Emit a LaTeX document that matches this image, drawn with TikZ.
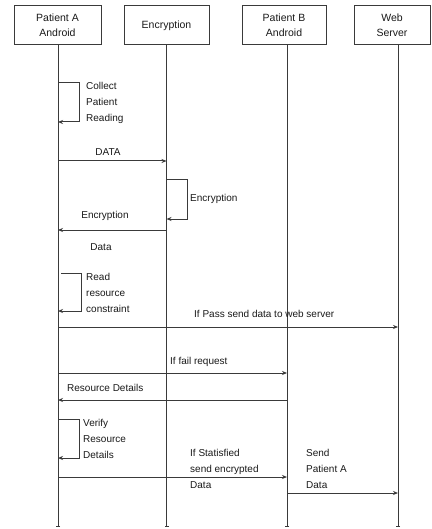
\documentclass[tikz,border=0pt]{standalone}
\usepackage{fontspec}
\setmainfont{Liberation Sans}
\usetikzlibrary{arrows.meta}
\definecolor{linec}{HTML}{3A3A3A}
\definecolor{txtc}{HTML}{1A1A1A}
\begin{document}
\begin{tikzpicture}[x=1pt,y=-1pt,
  hdr/.style={draw=linec, line width=1pt, minimum height=39pt, inner sep=0pt,
    align=center, text=txtc, font=\fontsize{10.5}{14.5}\selectfont},
  life/.style={draw=linec, line width=1pt, -{Bar[width=4pt,line width=1pt]}},
  msg/.style={draw=linec, line width=1pt, -{Stealth[length=5pt,width=4pt]}},
  lbl/.style={text=txtc, font=\fontsize{10}{16}\selectfont, align=left, inner sep=0pt}]
\useasboundingbox (0,0) rectangle (431,529);
\fill[white] (0,0) rectangle (431,529);
% headers
\node[hdr, minimum width=87pt] (hA) at (57.5,25.5) {Patient A\\Android};
\node[hdr, minimum width=85pt] (hB) at (166.5,25.5) {Encryption};
\node[hdr, minimum width=84pt] (hC) at (284,25.5) {Patient B\\Android};
\node[hdr, minimum width=76pt] (hD) at (392,25.5) {Web\\Server};
% lifeline ends
\coordinate (eA) at (58,527);
\coordinate (eB) at (166.5,527);
\coordinate (eC) at (287,527);
\coordinate (eD) at (398,527);
\draw[life] (hA.south -| eA) -- (eA);
\draw[life] (hB.south -| eB) -- (eB);
\draw[life] (hC.south -| eC) -- (eC);
\draw[life] (hD.south -| eD) -- (eD);
% self loop: collect
\coordinate (c1s) at (58,83);
\coordinate (c1e) at (58,122);
\draw[msg] (c1s) -- (79,83) -- (79,122) -- (c1e);
\node[lbl, anchor=west] (tCollect) at (86,103) {Collect\\Patient\\Reading};
% DATA
\coordinate (m1a) at (58,161);
\coordinate (m1b) at (166.5,161);
\draw[msg] (m1a) -- (m1b);
\node[lbl] (tData1) at (108,152) {DATA};
% self loop encryption
\coordinate (c2s) at (166.5,180);
\coordinate (c2e) at (166.5,219);
\draw[msg] (c2s) -- (187,180) -- (187,219) -- (c2e);
\node[lbl, anchor=west] (tEnc) at (190,199) {Encryption};
% return encryption
\coordinate (m2a) at (166.5,230);
\coordinate (m2b) at (58,230);
\draw[msg] (m2a) -- (m2b);
\node[lbl] (tEnc2) at (105,216) {Encryption};
\node[lbl] (tData2) at (101,247) {Data};
% self loop read
\coordinate (c3s) at (61,273);
\coordinate (c3e) at (58,311);
\draw[msg] (c3s) -- (81,273) -- (81,311) -- (c3e);
\node[lbl, anchor=west] (tRead) at (86,293) {Read\\resource\\constraint};
% if pass
\coordinate (m3a) at (58,327);
\coordinate (m3b) at (398,327);
\draw[msg] (m3a) -- (m3b);
\node[lbl, anchor=west] (tPass) at (194,314) {If Pass send data to web server};
% if fail
\coordinate (m4a) at (58,373);
\coordinate (m4b) at (287,373);
\draw[msg] (m4a) -- (m4b);
\node[lbl, anchor=west] (tFail) at (170,362) {If fail request};
% resource details
\coordinate (m5a) at (287,400);
\coordinate (m5b) at (58,400);
\draw[msg] (m5a) -- (m5b);
\node[lbl, anchor=west] (tRes) at (67,388) {Resource Details};
% verify loop
\coordinate (c4s) at (58,419);
\coordinate (c4e) at (58,458);
\draw[msg] (c4s) -- (79,419) -- (79,458) -- (c4e);
\node[lbl, anchor=west] (tVer) at (83,439) {Verify\\Resource\\Details};
% if satisfied
\coordinate (m6a) at (58,477);
\coordinate (m6b) at (287,477);
\draw[msg] (m6a) -- (m6b);
\node[lbl, anchor=west] (tSat) at (190,469) {If Statisfied\\send encrypted\\Data};
% send patient A data
\coordinate (m7a) at (287,493);
\coordinate (m7b) at (398,493);
\draw[msg] (m7a) -- (m7b);
\node[lbl, anchor=west] (tSend) at (306,469) {Send\\Patient A\\Data};
\end{tikzpicture}
\end{document}
